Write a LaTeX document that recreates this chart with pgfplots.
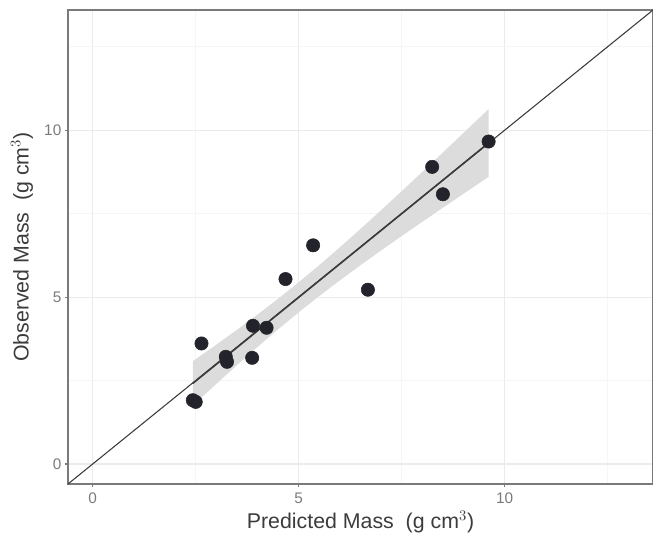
\documentclass[border=0pt]{standalone}
\usepackage{pgfplots}
\pgfplotsset{compat=1.18}
\usepackage{fontspec}
\setmainfont{Liberation Sans}

\definecolor{ptcol}{HTML}{22232B}
\definecolor{ribbon}{HTML}{DCDCDC}
\definecolor{linecol}{HTML}{3A3A3A}
\definecolor{tickcol}{HTML}{7A7A7A}
\definecolor{titlecol}{HTML}{3C3C3C}

\begin{document}
\begin{tikzpicture}
\begin{axis}[
  scale only axis, width=438.75pt, height=355.5pt,
  xmin=-0.6, xmax=13.6, ymin=-0.6, ymax=13.6,
  xtick={0,5,10}, ytick={0,5,10},
  minor xtick={2.5,7.5,12.5}, minor ytick={2.5,7.5,12.5},
  grid=both,
  major grid style={color=black!8, line width=0.8pt},
  minor grid style={color=black!4, line width=0.5pt},
  axis line style={color=tickcol, line width=0.9pt},
  xtick pos=bottom, ytick pos=left,
  tick align=outside, major tick length=2.5pt, minor tick length=0pt,
  tick style={color=tickcol, line width=0.8pt},
  ticklabel style={font=\fontsize{11.5}{13}\selectfont, color=tickcol},
  xticklabel style={yshift=-0.5pt},
  yticklabel style={xshift=1pt},
  /pgf/number format/assume math mode=true,
  xlabel={Predicted Mass\ \ (g cm$^{3}$)},
  ylabel={Observed Mass\ \ (g cm$^{3}$)},
  label style={font=\fontsize{16}{19}\selectfont, color=titlecol},
  xlabel style={at={(axis description cs:0.5,0)}, anchor=base, yshift=-33.5pt},
  ylabel style={at={(axis description cs:0,0.5)}, anchor=center, yshift=34.5pt},
]
% confidence band of the fit
\addplot[draw=none, fill=ribbon] coordinates {
  (2.43,3.078) (3.0,3.574) (3.5,4.018) (4.0,4.475) (4.5,4.949) (5.0,5.443)
  (5.5,5.958) (6.0,6.491) (6.5,7.041) (7.0,7.602) (7.5,8.173) (8.0,8.749)
  (8.5,9.331) (9.0,9.915) (9.61,10.632)
  (9.61,8.602) (9.0,8.095) (8.5,7.677) (8.0,7.255) (7.5,6.829) (7.0,6.396)
  (6.5,5.955) (6.0,5.501) (5.5,5.032) (5.0,4.543) (4.5,4.035) (4.0,3.505)
  (3.5,2.960) (3.0,2.400) (2.43,1.752)
};
% 1:1 line
\addplot[color=linecol, line width=0.8pt] coordinates {(-0.6,-0.6) (13.6,13.6)};
% fitted line
\addplot[color=linecol, line width=1.2pt] coordinates {(2.43,2.415) (9.61,9.617)};
\addplot[only marks, mark=*, mark size=5pt, color=ptcol] coordinates {
  (2.43,1.91) (2.50,1.86) (2.64,3.61) (3.23,3.21) (3.26,3.06) (3.87,3.18)
  (3.89,4.14) (4.22,4.08) (4.68,5.54) (5.35,6.55) (6.68,5.22) (8.24,8.90)
  (8.50,8.08) (9.61,9.66)
};
\end{axis}
\pgfresetboundingbox
\path[use as bounding box] ([xshift=-51pt,yshift=-36pt]current axis.south west)
  rectangle ([yshift=7.5pt]current axis.north east);
\end{tikzpicture}
\end{document}
